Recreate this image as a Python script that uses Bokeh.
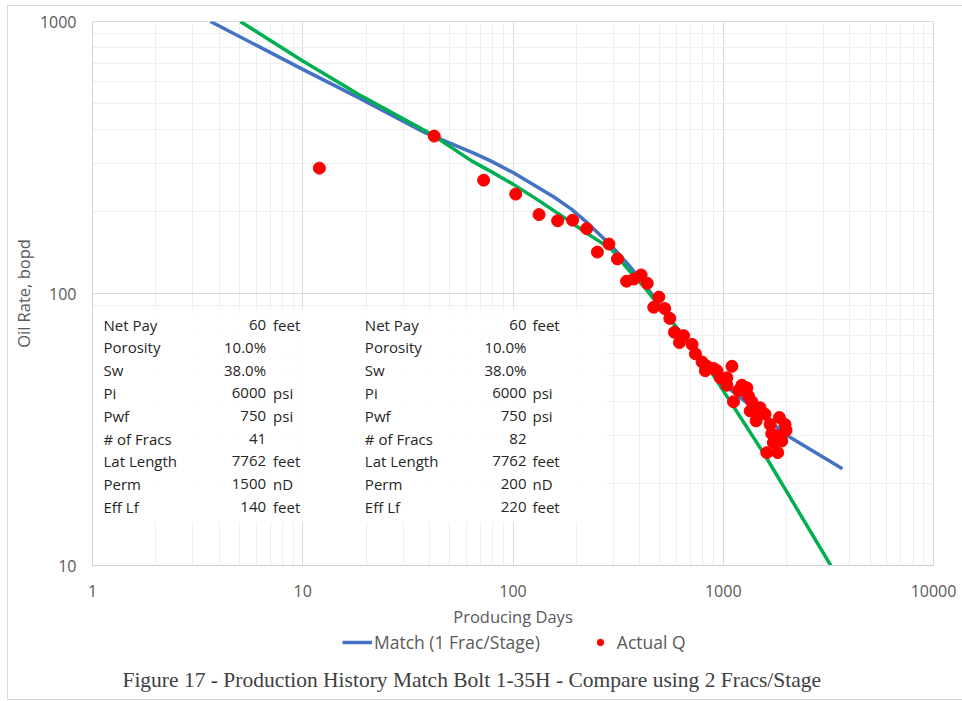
from bokeh.plotting import figure
from bokeh.layouts import column
from bokeh.models import (FixedTicker, NumeralTickFormatter, Legend, LegendItem,
                          Label, BoxAnnotation, ColumnDataSource, Range1d)
from bokeh.core.properties import value
from bokeh.embed import file_html
from bokeh.resources import INLINE

# ---------------- data ----------------
actual_days = [12.0, 42.2, 72.5, 103, 133, 163, 192, 224, 252, 286, 314, 347, 376, 407,
               435, 467, 494, 527, 557, 586, 619, 648, 711, 737, 793, 822, 837, 900,
               934, 968, 1041, 1041, 1100, 1119, 1182, 1226, 1295, 1318, 1343, 1368,
               1433, 1444, 1497, 1581, 1611, 1670, 1701, 1731, 1797, 1816, 1849, 1898,
               1967, 1989]
actual_rate = [289, 379, 261, 232, 195, 185, 186, 173, 142, 152, 134, 111, 113, 117,
               109, 89, 97, 88, 81, 72, 66, 70, 65, 60, 56, 52, 54, 53,
               52, 49, 49, 46, 54, 40, 44, 46, 45, 42, 37, 40,
               34, 36, 38, 36, 26, 33, 30.5, 28.3, 30, 26, 35, 28.7,
               33, 31.4]

match1_days = [3.64, 10, 18.4, 38.1, 65.9, 79.1, 100, 131.7, 157.9, 189.5, 227.4, 293.4,
               352, 422, 565, 784, 1050, 2022, 3688]
match1_rate = [1000, 667, 525, 390, 327, 306, 278.4, 245.2, 225.4, 204.3, 181, 149.8,
               128.3, 108.3, 79.4, 58.2, 45.2, 30.0, 22.7]

match2_days = [5.05, 10, 18.4, 41, 63.5, 79.1, 100, 131.7, 189.5, 227.4, 293.4, 352,
               422, 565, 784, 875, 1566, 3246]
match2_rate = [1000, 716, 540, 385, 307.4, 280, 252.4, 220.4, 182.4, 165.4, 145.6, 123,
               105.3, 79.4, 58.2, 51.5, 25.7, 10]

x_ticks = [1, 10, 100, 1000, 10000]
y_ticks = [10, 100, 1000]

table_labels = ["Net Pay", "Porosity", "Sw", "Pi", "Pwf", "# of Fracs", "Lat Length", "Perm", "Eff Lf"]
table1_values = ["60", "10.0%", "38.0%", "6000", "750", "41", "7762", "1500", "140"]
table1_units = ["feet", "", "", "psi", "psi", "", "feet", "nD", "feet"]
table2_values = ["60", "10.0%", "38.0%", "6000", "750", "82", "7762", "200", "220"]
table2_units = ["feet", "", "", "psi", "psi", "", "feet", "nD", "feet"]

caption = "Figure 17 - Production History Match Bolt 1-35H - Compare using 2 Fracs/Stage"

# ---------------- styling ----------------
FONT = "Open Sans"
GRAY_TXT = "#595959"
BLUE = "#4472C4"
GREEN = "#00B050"
RED = "#FF0000"

W = 954
H1 = 625
H2 = 68

p = figure(width=W, height=H1, x_axis_type="log", y_axis_type="log",
           x_range=(1, 10000), y_range=(10, 1000),
           output_backend="svg", toolbar_location=None,
           min_border_left=82, min_border_right=29, min_border_top=15, min_border_bottom=66,
           background_fill_color="white", border_fill_color="white")
p.outline_line_color = "#d9d9d9"

minor = [m * 10 ** e for e in range(0, 4) for m in range(2, 10)]
yminor = [m * 10 ** e for e in range(1, 3) for m in range(2, 10)]
p.xgrid.ticker = FixedTicker(ticks=x_ticks, minor_ticks=minor)
p.ygrid.ticker = FixedTicker(ticks=y_ticks, minor_ticks=yminor)
for g in (p.xgrid, p.ygrid):
    g.grid_line_color = "#d9d9d9"
    g.minor_grid_line_color = "#eeeeee"

p.xaxis.ticker = FixedTicker(ticks=x_ticks, minor_ticks=[])
p.yaxis.ticker = FixedTicker(ticks=y_ticks, minor_ticks=[])
for ax in (p.xaxis, p.yaxis):
    ax.formatter = NumeralTickFormatter(format="0")
    ax.axis_line_color = "#d0d0d0"
    ax.major_tick_line_color = None
    ax.minor_tick_line_color = None
    ax.major_tick_out = 0
    ax.major_tick_in = 0
    ax.minor_tick_out = 0
    ax.minor_tick_in = 0
    ax.major_label_text_font = FONT
    ax.major_label_text_font_size = "16px"
    ax.major_label_text_color = GRAY_TXT
    ax.axis_label_text_font = FONT
    ax.axis_label_text_font_size = "16.5px"
    ax.axis_label_text_font_style = "normal"
    ax.axis_label_text_color = GRAY_TXT
p.xaxis.axis_label = "Producing Days"
p.yaxis.axis_label = "Oil Rate, bopd"
p.xaxis.major_label_standoff = 19
p.xaxis.axis_label_standoff = 5
p.yaxis.major_label_standoff = 16
p.yaxis.axis_label_standoff = 2

# ---------------- parameter tables (layout positions in page pixels) ----------------
FX0, FX1, FY0, FY1 = 90, 933, 21, 565


def dx(px):
    return 10 ** (4 * (px - FX0) / (FX1 - FX0))


def dy(py):
    return 10 ** (1 + 2 * (FY1 - py) / (FY1 - FY0))


box = BoxAnnotation(left=dx(90), right=dx(605), bottom=dy(522), top=dy(308),
                    fill_color="white", fill_alpha=0.93, line_color=None, level="underlay")
p.add_layout(box)

row_y = [dy(324 + 22.8 * i) for i in range(len(table_labels))]


def add_col(texts, px, align):
    src = ColumnDataSource(dict(x=[dx(px)] * len(texts), y=row_y, t=texts))
    p.text(x="x", y="y", text="t", source=src, text_font=value(FONT),
           text_font_size="15px", text_color="#262626", text_align=align,
           text_baseline="middle")


add_col(table_labels, 101, "left")
add_col(table1_values, 264, "right")
add_col(table1_units, 271, "left")
add_col(table_labels, 363, "left")
add_col(table2_values, 525, "right")
add_col(table2_units, 531, "left")

# ---------------- series ----------------
p.line(match1_days, match1_rate, line_color=BLUE, line_width=3.5)
p.line(match2_days, match2_rate, line_color=GREEN, line_width=3.5)
p.scatter(actual_days, actual_rate, size=12, fill_color=RED, line_color=RED)

# ---------------- legend + caption strip (frame aligned with the chart frame) ----------------
p2 = figure(width=W, height=H2, x_range=Range1d(FX0, FX1), y_range=Range1d(0, H2),
            output_backend="svg", toolbar_location=None,
            x_axis_location=None, y_axis_location=None,
            min_border_left=82, min_border_right=29, min_border_top=0, min_border_bottom=0,
            background_fill_color="white", border_fill_color="white")
p2.grid.visible = False
p2.outline_line_color = None

nan = float("nan")
leg_blue = p2.line(x=[nan], y=[nan], line_color=BLUE, line_width=3.5)
leg_red = p2.scatter(x=[nan], y=[nan], size=12, fill_color=RED, line_color=RED)
legend = Legend(items=[LegendItem(label="Match (1 Frac/Stage)", renderers=[leg_blue]),
                       LegendItem(label="Actual Q", renderers=[leg_red])],
                orientation="horizontal", location=(250, 45),
                label_text_font=FONT, label_text_font_size="17.5px", label_text_color=GRAY_TXT,
                glyph_width=30, glyph_height=16, label_standoff=2, spacing=45,
                padding=0, margin=0, border_line_color=None, background_fill_alpha=0)
p2.add_layout(legend)

p2.add_layout(Label(x=120, y=20, text=caption, text_font="Liberation Serif",
                    text_font_size="21.5px", text_color="#404040",
                    text_baseline="middle", text_align="left"))

layout = column(p, p2, spacing=0)
layout.margin = (5, 0, 0, 7)
layout.styles = {"border": "1px solid #d9d9d9"}

open("out.html", "w").write(file_html(layout, INLINE))
